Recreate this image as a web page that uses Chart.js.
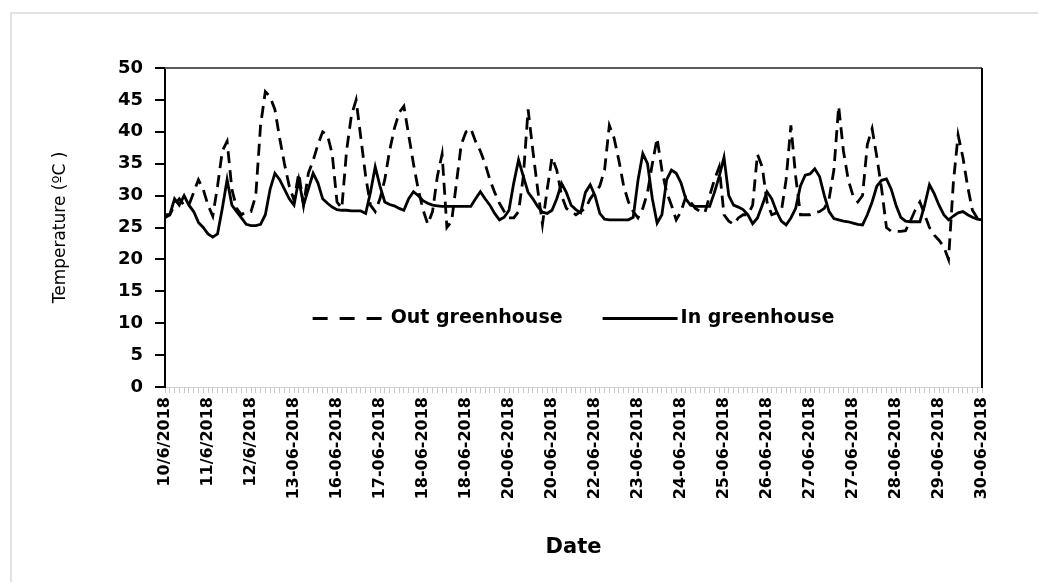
<!DOCTYPE html>
<html>
<head>
<meta charset="utf-8">
<script src="https://cdn.jsdelivr.net/npm/chart.js@4.4.1/dist/chart.umd.min.js"></script>
<style>
  html, body { margin: 0; padding: 0; background: #fff; }
  #wrap { position: relative; width: 1038px; height: 582px; overflow: hidden; }
  #frame { position: absolute; left: 10px; top: 12px; width: 1040px; height: 590px;
           border: 2px solid #e2e2e2; pointer-events: none; }
</style>
</head>
<body>
<div id="wrap">
  <canvas id="tempChart" width="1038" height="582"></canvas>
  <div id="frame"></div>
</div>
<script>
// date labels shown every 9th reading
const dayLabels = ["10/6/2018", "11/6/2018", "12/6/2018", "13-06-2018", "16-06-2018",
  "17-06-2018", "18-06-2018", "18-06-2018", "20-06-2018", "20-06-2018",
  "22-06-2018", "23-06-2018", "24-06-2018", "25-06-2018", "26-06-2018",
  "27-06-2018", "27-06-2018", "28-06-2018", "29-06-2018", "30-06-2018"];
const labelStep = 9;

const outTemp = [
  26.5, 27, 28.5, 29.5, 28.5, 28.5, 30.5, 32.5, 31, 28.5,
  26.8, 31.5, 37, 38.5, 31, 28, 27, 27.5, 27.5, 30,
  41, 46.3, 45.5, 43.5, 39, 35, 31.5, 29.3, 33.5, 28.5,
  33.5, 35.5, 38, 40, 39.5, 36.5, 29, 28, 37, 42.5,
  45, 39, 33, 28.5, 27.5, 29.5, 32.5, 37, 40.5, 43,
  44, 39.5, 35, 31, 27.8, 25.5, 27.5, 33, 36.5, 25,
  26, 32, 38, 40, 40.5, 38.5, 37, 35, 32.5, 30.5,
  28.8, 27.5, 26.5, 26.5, 27.5, 33, 43.5, 37, 31, 25.5,
  31, 36, 34, 30, 28, 27.5, 27, 27.5, 28, 29.5,
  30.5, 31.5, 34, 41, 39, 35.5, 31.5, 29, 27.5, 26.5,
  28, 30.5, 35, 39, 34, 30.5, 28.5, 26.2, 27.5, 29.8,
  29, 28, 27.5, 27.3, 30, 32.5, 34.5, 27, 26, 25.5,
  26.5, 27, 27, 28.5, 36.5, 34.5, 29, 27, 27.3, 27.5,
  32.5, 41, 33, 27, 27, 27, 27.3, 27.5, 28, 29.5,
  34, 44, 37, 32.5, 30, 29, 30, 38, 40.5, 36,
  31, 25, 24.4, 24.4, 24.4, 24.5, 26, 27.7, 29, 27,
  25, 23.8, 23, 22, 20, 32, 39.5, 36, 31.4, 27.7,
  26.5, 26
];

const inTemp = [
  27, 27, 29.5, 28.5, 30, 28.5, 27.5, 25.8, 25, 24,
  23.5, 24, 28, 32.5, 28.5, 27.5, 26.5, 25.5, 25.3, 25.3,
  25.5, 27, 31, 33.5, 32.5, 31, 29.5, 28.5, 32.5, 28.5,
  31, 33.5, 32, 29.5, 28.8, 28.2, 27.8, 27.7, 27.7, 27.6,
  27.6, 27.6, 27.2, 30.5, 34.5, 31.5, 29, 28.6, 28.4, 28,
  27.7, 29.5, 30.6, 30, 29.2, 28.8, 28.5, 28.4, 28.3, 28.3,
  28.3, 28.3, 28.3, 28.3, 28.3, 29.5, 30.6, 29.5, 28.5, 27.2,
  26.2, 26.6, 27.7, 32, 35.6, 33, 30.5, 29.5, 28.3, 27.4,
  27.2, 27.7, 29.5, 31.9, 30.5, 28.5, 27.8, 27.3, 30.5, 31.7,
  30, 27.2, 26.3, 26.2, 26.2, 26.2, 26.2, 26.2, 26.6, 32.4,
  36.6, 35, 29.5, 25.7, 27, 32.5, 34, 33.5, 32, 29.5,
  28.5, 28.3, 28.3, 28.3, 28.3, 30.5, 33, 36, 30, 28.5,
  28.2, 27.8, 27, 25.6, 26.5, 28.5, 30.6, 29.5, 27.5, 26,
  25.4, 26.5, 28, 31.5, 33.2, 33.4, 34.2, 33, 30, 27.5,
  26.4, 26.2, 26, 25.9, 25.7, 25.5, 25.4, 27, 29, 31.5,
  32.4, 32.6, 31, 28.5, 26.6, 26, 25.9, 25.9, 25.9, 28.5,
  31.7, 30.3, 28.5, 27, 26.2, 26.8, 27.3, 27.5, 27, 26.6,
  26.3, 26.2
];

const yTicks = [0, 5, 10, 15, 20, 25, 30, 35, 40, 45, 50];

// one category per reading, only every 9th one carries a date
const labels = outTemp.map((v, i) => (i % labelStep === 0 ? dayLabels[i / labelStep] : ""));

const FONT = "'DejaVu Sans', sans-serif";

// top and right frame lines of the plot area
const plotFrame = {
  id: "plotFrame",
  afterDraw(chart) {
    const { ctx, chartArea: a } = chart;
    ctx.save();
    ctx.lineWidth = 2;
    ctx.strokeStyle = "#5a5a5a";
    ctx.beginPath();
    ctx.moveTo(a.left, a.top);
    ctx.lineTo(a.right, a.top);
    ctx.stroke();
    ctx.strokeStyle = "#000";
    ctx.beginPath();
    ctx.moveTo(a.right, a.top);
    ctx.lineTo(a.right, a.bottom + 1);
    ctx.stroke();
    ctx.restore();
  },
};

// legend drawn inside the plot, like the original
const innerLegend = {
  id: "innerLegend",
  afterDraw(chart) {
    const { ctx, chartArea: a } = chart;
    const y = a.top + (a.bottom - a.top) * 0.785;
    const sample = 75;
    ctx.save();
    ctx.font = "bold 19px " + FONT;
    ctx.textBaseline = "middle";
    ctx.fillStyle = "#000";
    const items = chart.data.datasets.map((ds) => ({ ds, w: ctx.measureText(ds.label).width }));
    const gap = 40;
    const total = items.reduce((s, it) => s + sample + 3 + it.w, 0) + gap * (items.length - 1);
    let x = (a.left + a.right) / 2 - total / 2;
    items.forEach((it) => {
      ctx.lineWidth = 3;
      ctx.strokeStyle = it.ds.borderColor;
      ctx.setLineDash(it.ds.borderDash ? [15, 12] : []);
      ctx.beginPath();
      ctx.moveTo(x, y);
      ctx.lineTo(x + sample, y);
      ctx.stroke();
      ctx.setLineDash([]);
      ctx.fillText(it.ds.label, x + sample + 3, y);
      x += sample + 3 + it.w + gap;
    });
    ctx.restore();
  },
};

const ctx = document.getElementById("tempChart").getContext("2d");
const tempChart = new Chart(ctx, {
  type: "line",
  data: {
    labels: labels,
    datasets: [
      {
        label: "Out greenhouse",
        data: outTemp,
        borderColor: "#000",
        borderWidth: 2.8,
        borderDash: [12, 7],
        pointRadius: 0,
        tension: 0,
        fill: false,
      },
      {
        label: "In greenhouse",
        data: inTemp,
        borderColor: "#000",
        borderWidth: 2.8,
        pointRadius: 0,
        tension: 0,
        fill: false,
      },
    ],
  },
  options: {
    responsive: false,
    animation: false,
    layout: { padding: { left: 50, right: 56, top: 68, bottom: 18 } },
    plugins: {
      legend: { display: false },
      tooltip: { enabled: false },
    },
    scales: {
      x: {
        offset: false,
        afterFit: (s) => { s.height = 177; },
        border: { color: "#d0d0d0", width: 1 },
        grid: { drawOnChartArea: false, drawTicks: true, tickLength: 6, color: "#c8c8c8", lineWidth: 1 },
        ticks: {
          autoSkip: false,
          maxRotation: 90,
          minRotation: 90,
          padding: 4,
          color: "#000",
          font: { family: FONT, size: 16, weight: "bold" },
        },
        title: {
          display: true,
          text: "Date",
          color: "#000",
          padding: { top: 4, bottom: 4 },
          font: { family: FONT, size: 21, weight: "bold" },
        },
      },
      y: {
        min: 0,
        max: 50,
        afterFit: (s) => { s.width = 115; },
        afterBuildTicks: (s) => { s.ticks = yTicks.map((v) => ({ value: v })); },
        border: { color: "#000", width: 2 },
        grid: { drawOnChartArea: false, drawTicks: true, tickLength: 10, color: "#000", lineWidth: 2 },
        ticks: {
          padding: 12,
          color: "#000",
          font: { family: FONT, size: 18, weight: "bold" },
        },
        title: {
          display: true,
          text: "Temperature (ºC )",
          color: "#000",
          padding: { top: 0, bottom: 0 },
          font: { family: FONT, size: 17 },
        },
      },
    },
  },
  plugins: [plotFrame, innerLegend],
});
</script>
</body>
</html>
